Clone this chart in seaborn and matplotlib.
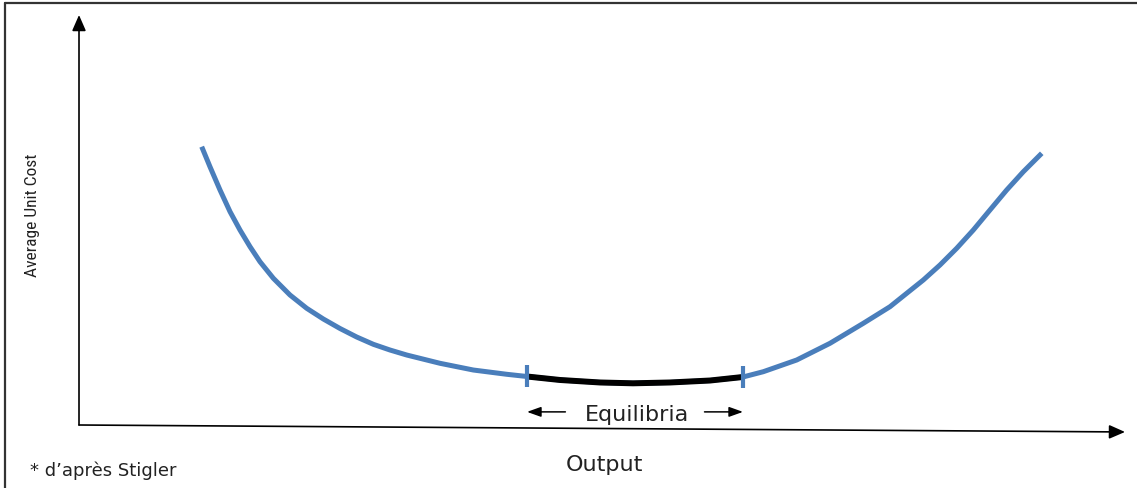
import numpy as np
import matplotlib
matplotlib.use("Agg")
import matplotlib.pyplot as plt
from matplotlib import font_manager
from matplotlib.lines import Line2D
import seaborn as sns

# Average unit cost curve, output and cost in chart units 0..100
output = [11.73, 12.52, 13.48, 14.44, 15.39, 16.35, 17.30, 18.58, 20.17, 21.77,
          23.36, 24.95, 26.55, 28.14, 29.73, 31.33, 34.51, 37.70, 40.89, 42.83,
          45.98, 49.81, 52.96, 56.50, 60.33, 63.48,
          65.42, 68.61, 71.80, 74.98, 77.53, 79.13, 80.72, 82.31, 83.91,
          85.50, 87.09, 88.69, 90.28, 92.04]
unit_cost = [67.88, 63.00, 57.32, 52.02, 47.56, 43.49, 39.83, 35.78, 31.71, 28.46,
             25.85, 23.54, 21.46, 19.68, 18.29, 17.07, 15.05, 13.41, 12.37, 11.83,
             10.98, 10.37, 10.17, 10.37, 10.85, 11.71,
             13.00, 15.85, 19.93, 24.80, 28.85, 32.12, 35.37, 39.02, 43.10,
             47.56, 52.44, 57.32, 61.78, 66.27]

# equilibrium range (indices into the curve)
eq_start, eq_end = 19, 25

x_label = "Output"
y_label = "Average Unit Cost"
eq_label = "Equilibria"
note = "* d\u2019apr\u00e8s Stigler"

blue = "#4A7EBB"

sns.set_theme(style="white")
plt.rcParams["font.family"] = ["DejaVu Sans"]

names = {f.name for f in font_manager.fontManager.ttflist}
narrow = "DejaVu Sans"
for cand in ["Liberation Sans Narrow", "Arial Narrow", "Roboto Condensed",
             "Open Sans Condensed", "DejaVu Sans Condensed"]:
    if cand in names:
        narrow = cand
        break

fig = plt.figure(figsize=(11.37, 4.88), dpi=100)
ax = fig.add_axes([0, 0, 1, 1])
ax.set_xlim(-7.553, 101.147)
ax.set_ylim(-15.366, 103.659)
ax.axis("off")

# whole curve in blue, equilibrium stretch in black
sns.lineplot(x=output, y=unit_cost, ax=ax, color=blue, linewidth=3.6,
             sort=False, estimator=None, solid_capstyle="butt")
sns.lineplot(x=output[eq_start:eq_end + 1], y=unit_cost[eq_start:eq_end + 1],
             ax=ax, color="black", linewidth=4.3, sort=False, estimator=None,
             solid_capstyle="butt")
ax.plot([output[eq_start], output[eq_end]], [unit_cost[eq_start], unit_cost[eq_end]],
        linestyle="none", marker="|", markersize=16, markeredgewidth=3,
        color=blue, zorder=5)

# axes with arrow heads
arrow = dict(arrowstyle="-|>,head_length=0.8,head_width=0.35", color="black",
             lw=1.2, shrinkA=0, shrinkB=0)
ax.annotate("", xy=(0, 100), xytext=(0, 0), arrowprops=arrow)
ax.annotate("", xy=(100, -1.7), xytext=(0, 0), arrowprops=arrow)

# equilibria label with small arrows
eq_mid = (output[eq_start] + output[eq_end]) / 2
ax.text(eq_mid + 0.2, 2.4, eq_label, ha="center", va="center", fontsize=16,
        color="#222222")
small = dict(arrowstyle="-|>,head_length=0.7,head_width=0.25", color="black",
             lw=1.1, shrinkA=0, shrinkB=0)
ax.annotate("", xy=(output[eq_start], 3.2), xytext=(46.5, 3.2), arrowprops=small)
ax.annotate("", xy=(output[eq_end], 3.2), xytext=(59.8, 3.2), arrowprops=small)

fig.text(604 / 1137, 1 - 465 / 488, x_label, ha="center", va="center",
         fontsize=16, color="#222222")
fig.text(32 / 1137, 1 - 215 / 488, y_label, ha="center", va="center",
         rotation=90, fontsize=12.5, family=narrow, fontstretch="condensed",
         color="#222222")
fig.text(30 / 1137, 1 - 471 / 488, note, ha="left", va="center",
         fontsize=13, color="#222222")

# outer frame (left and top edges visible)
fig.add_artist(Line2D([5 / 1137, 5 / 1137], [0, 1 - 3 / 488],
                      transform=fig.transFigure, color="#333333", lw=1.6))
fig.add_artist(Line2D([5 / 1137, 1], [1 - 3 / 488, 1 - 3 / 488],
                      transform=fig.transFigure, color="#333333", lw=1.6))

fig.savefig("out.png", dpi=100, facecolor="white")
